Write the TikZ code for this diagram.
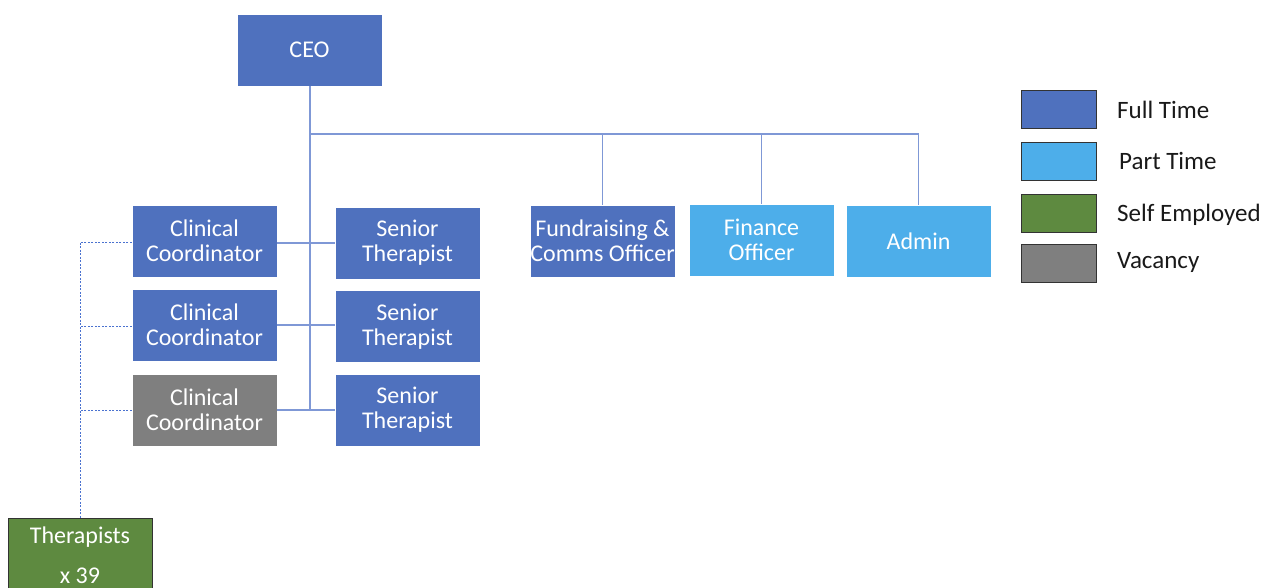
\documentclass[tikz,border=0pt]{standalone}
\usepackage{fontspec}
\setmainfont{Carlito}
\definecolor{fullc}{HTML}{4F71BE}
\definecolor{partc}{HTML}{4DAEEA}
\definecolor{selfc}{HTML}{5E8A40}
\definecolor{vacc}{HTML}{7F7F7F}
\definecolor{linec}{HTML}{7F98D6}
\definecolor{dashc}{HTML}{4A72D0}
\begin{document}
\begin{tikzpicture}[x=1pt,y=-1pt,
  box/.style={minimum width=145pt,minimum height=72pt,inner sep=0pt,align=center,
    text=white,font=\fontsize{24}{25}\selectfont,draw=white,line width=0.6pt},
  full/.style={box,fill=fullc},
  part/.style={box,fill=partc},
  selfe/.style={box,fill=selfc,draw=black!80,line width=1pt},
  vac/.style={box,fill=vacc},
  legbox/.style={minimum width=75pt,minimum height=38pt,inner sep=0pt,draw=black!80,line width=1pt},
  leglab/.style={anchor=west,font=\fontsize{25}{26}\selectfont,text=black!90,inner sep=0pt},
  conn/.style={draw=linec,line width=1.3pt},
  dconn/.style={draw=dashc,line width=0.8pt,dash pattern=on 2pt off 1.5pt}]
\useasboundingbox (0,0) rectangle (1270,588);
\fill[white] (0,0) rectangle (1270,588);
\node[full] (ceo) at (309.5,50) {CEO};
\node[full] (cc1) at (204.5,241) {Clinical\\Coordinator};
\node[full] (cc2) at (204.5,325) {Clinical\\Coordinator};
\node[vac] (cc3) at (204.5,410) {Clinical\\Coordinator};
\node[full] (st1) at (407.5,243) {Senior\\Therapist};
\node[full] (st2) at (407.5,326.5) {Senior\\Therapist};
\node[full] (st3) at (407.5,410) {Senior\\Therapist};
\node[full] (fund) at (602.5,241) {Fundraising \&\\Comms Officer};
\node[part] (fin) at (761.5,240) {Finance\\Officer};
\node[part] (adm) at (918.5,241) {Admin};
\node[selfe,minimum width=144pt,minimum height=74pt,font=\fontsize{24}{40}\selectfont,anchor=north] (ther) at (80,518) {Therapists\\x 39};
% legend
\node[legbox,fill=fullc] (l1) at (1058.5,110) {};
\node[legbox,fill=partc] (l2) at (1058.5,162) {};
\node[legbox,fill=selfc] (l3) at (1058.5,214) {};
\node[legbox,fill=vacc] (l4) at (1058.5,264) {};
\node[leglab] (t1) at (1117,110) {Full Time};
\node[leglab] (t2) at (1119,161) {Part Time};
\node[leglab] (t3) at (1117,215) {Self Employed};
\node[leglab] (t4) at (1117,262) {Vacancy};
% connectors
\coordinate (trunk) at (310,410);
\coordinate (bar) at (310,134);
\draw[conn] (ceo.south -| bar) -- (trunk);
\draw[conn] (bar) -| (adm.north);
\draw[conn] (bar -| fund.north) -- (fund.north);
\draw[conn] (bar -| fin.north) -- (fin.north);
\draw[conn] (cc1.east |- 0,243) -- (st1.west |- 0,243);
\draw[conn] (cc2.east |- 0,325) -- (st2.west |- 0,325);
\draw[conn] (cc3.east |- 0,410) -- (st3.west |- 0,410);
\coordinate (dtop) at (80,242);
\draw[dconn] (cc1.west |- dtop) -- (dtop) -- (ther.north);
\draw[dconn] (cc2.west |- 0,326) -- (80,326);
\draw[dconn] (cc3.west |- 0,410) -- (80,410);
\end{tikzpicture}
\end{document}
